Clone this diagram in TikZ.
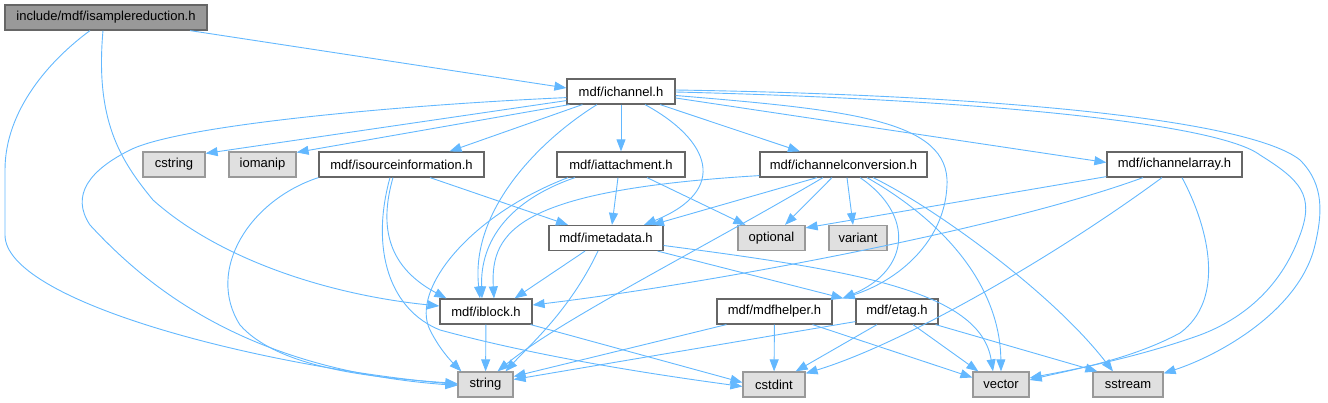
\documentclass[tikz,border=0pt]{standalone}
\usepackage{fontspec}
\setmainfont{Liberation Sans}
\usetikzlibrary{arrows.meta}
\definecolor{edgeblue}{HTML}{63B8FF}
\definecolor{boxgray}{HTML}{666666}
\definecolor{sysfill}{HTML}{E0E0E0}
\definecolor{sysline}{HTML}{999999}
\definecolor{rootfill}{HTML}{999999}

\begin{document}
\begin{tikzpicture}[x=1pt, y=-1pt, every node/.style={font=\fontsize{13}{15}\selectfont}]
\tikzset{hdr/.style={draw=boxgray, fill=white, line width=1.2pt, minimum height=25pt, inner sep=0pt}}
\tikzset{sys/.style={hdr, draw=sysline, fill=sysfill}}
\tikzset{root/.style={hdr, fill=rootfill}}
\tikzset{inc/.style={draw=edgeblue, line width=0.9pt, -{Triangle[length=12pt, width=9pt]}}}

\useasboundingbox (0,0) rectangle (1328,403);

% Headers
\node[root, minimum width=202pt] (isr) at (106,17.5) {include/mdf/isamplereduction.h};
\node[hdr, minimum width=108pt] (ichannel) at (621,91.5) {mdf/ichannel.h};
\node[sys, minimum width=62pt] (cstring) at (174,164.5) {cstring};
\node[sys, minimum width=67pt] (iomanip) at (262.5,164.5) {iomanip};
\node[hdr, minimum width=165pt] (isi) at (401.5,164.5) {mdf/isourceinformation.h};
\node[hdr, minimum width=128pt] (iattachment) at (621,164.5) {mdf/iattachment.h};
\node[hdr, minimum width=167pt] (icc) at (843.5,164.5) {mdf/ichannelconversion.h};
\node[hdr, minimum width=135pt] (ica) at (1174.5,164.5) {mdf/ichannelarray.h};
\node[hdr, minimum width=114pt] (imetadata) at (606,238) {mdf/imetadata.h};
\node[sys, minimum width=67pt] (optional) at (771.5,238) {optional};
\node[sys, minimum width=58pt] (variant) at (858,238) {variant};
\node[hdr, minimum width=92pt] (iblock) at (486,311.5) {mdf/iblock.h};
\node[hdr, minimum width=115pt] (mdfhelper) at (774.5,311.5) {mdf/mdfhelper.h};
\node[hdr, minimum width=82pt] (etag) at (897,311.5) {mdf/etag.h};
\node[sys, minimum width=55pt] (string) at (485.5,384.5) {string};
\node[sys, minimum width=62pt] (cstdint) at (774,384.5) {cstdint};
\node[sys, minimum width=56pt] (vector) at (1001,384.5) {vector};
\node[sys, minimum width=70pt] (sstream) at (1128,384.5) {sstream};

% Root
\draw[inc] ([xshift=84pt]isr.south) -- ([yshift=3.5pt]ichannel.west);
\draw[inc] ([xshift=-16pt]isr.south) .. controls (50,60) and (5,110) .. (5,170) -- (5,235) .. controls (5,300) and (250,365) .. (string.west);
\draw[inc] ([xshift=-3pt]isr.south) .. controls (95,120) and (120,160) .. (153,200) .. controls (220,260) and (330,295) .. ([yshift=5.5pt]iblock.west);

% ichannel
\draw[inc] ([yshift=4pt]ichannel.south west) -- ([yshift=-2pt]cstring.north east);
\draw[inc] ([xshift=3pt]ichannel.south west) -- ([yshift=-1pt]iomanip.north east);
\draw[inc] ([xshift=16pt]ichannel.south west) -- ([xshift=48pt]isi.north);
\draw[inc] ([yshift=7pt]ichannel.south west) .. controls (400,105) and (180,125) .. (130,150) .. controls (90,170) and (70,195) .. (90,225) .. controls (150,290) and (250,370) .. ([yshift=-1pt]string.west);
\draw[inc] ([xshift=-24pt]ichannel.south) .. controls (540,140) and (470,210) .. ([xshift=-6pt]iblock.north);
\draw[inc] (ichannel) -- (iattachment);
\draw[inc] ([xshift=24pt]ichannel.south) .. controls (710,140) and (730,190) .. ([xshift=38pt]imetadata.north);
\draw[inc] ([xshift=39pt]ichannel.south) -- ([xshift=-43.5pt]icc.north);
\draw[inc] ([yshift=-6.5pt]ichannel.east) -- ([yshift=2pt]ica.west);
\draw[inc] ([yshift=-4pt]ichannel.east) .. controls (850,110) and (950,120) .. (947,185) .. controls (945,240) and (900,280) .. ([xshift=10pt]mdfhelper.north east);
\draw[inc] ([yshift=-0.5pt]ichannel.east) .. controls (1000,100) and (1220,125) .. (1260,155) .. controls (1300,180) and (1315,195) .. (1300,235) .. controls (1280,290) and (1240,320) .. (1200,335) .. controls (1130,360) and (1060,372) .. ([yshift=6.5pt]vector.east);
\draw[inc] ([yshift=1.5pt]ichannel.east) .. controls (1000,95) and (1250,120) .. (1300,160) .. controls (1325,185) and (1322,215) .. (1315,245) .. controls (1300,310) and (1220,355) .. ([yshift=-2pt]sstream.north east);

% isourceinformation
\draw[inc] ([xshift=28.5pt]isi.south) -- ([xshift=-38pt]imetadata.north);
\draw[inc] ([xshift=-8.5pt]isi.south) .. controls (378,230) and (390,268) .. ([xshift=7pt]iblock.north west);
\draw[inc] ([xshift=-11.5pt]isi.south) .. controls (370,250) and (390,310) .. (440,330) .. controls (550,360) and (680,378) .. ([yshift=-2pt]cstdint.west);
\draw[inc] (isi.south west) .. controls (250,200) and (205,270) .. (240,325) .. controls (280,370) and (380,378) .. ([yshift=1pt]string.west);

% iattachment
\draw[inc] ([xshift=-3pt]iattachment.south) -- ([xshift=6pt]imetadata.north);
\draw[inc] ([xshift=26pt]iattachment.south) -- ([xshift=8pt]optional.north west);
\draw[inc] ([xshift=-46pt]iattachment.south) .. controls (510,200) and (480,240) .. ([xshift=-4pt]iblock.north);
\draw[inc] ([xshift=-53pt]iattachment.south) .. controls (470,215) and (410,290) .. (430,330) .. controls (440,350) and (452,362) .. ([xshift=4pt]string.north west);

% ichannelconversion
\draw[inc] ([yshift=2pt]icc.south west) .. controls (520,190) and (490,230) .. ([xshift=8pt]iblock.north);
\draw[inc] ([xshift=-26.5pt]icc.south) -- ([xshift=46pt]imetadata.north);
\draw[inc] ([xshift=-20.5pt]icc.south) .. controls (700,250) and (560,320) .. ([xshift=12pt]string.north);
\draw[inc] ([xshift=-11.5pt]icc.south) -- ([xshift=13.5pt]optional.north);
\draw[inc] ([xshift=3.5pt]icc.south) -- ([xshift=-5pt]variant.north);
\draw[inc] ([xshift=16.5pt]icc.south) .. controls (915,215) and (910,270) .. ([xshift=10pt]mdfhelper.north east);
\draw[inc] ([xshift=23.5pt]icc.south) .. controls (950,225) and (1000,290) .. (vector.north);
\draw[inc] ([xshift=29.5pt]icc.south) .. controls (930,205) and (1050,290) .. ([xshift=-15pt]sstream.north);

% ichannelarray
\draw[inc] ([yshift=1pt]ica.south west) -- ([yshift=-3pt]optional.north east);
\draw[inc] ([xshift=-31.5pt]ica.south) .. controls (1000,230) and (700,285) .. ([yshift=6.5pt]iblock.east);
\draw[inc] ([xshift=-12.5pt]ica.south) .. controls (1050,260) and (900,345) .. ([yshift=-2pt]cstdint.north east);
\draw[inc] ([xshift=7.5pt]ica.south) .. controls (1210,230) and (1225,300) .. (1180,333) .. controls (1130,360) and (1070,370) .. ([yshift=4.5pt]vector.east);

% imetadata
\draw[inc] ([xshift=-21pt]imetadata.south) -- ([xshift=-18pt]iblock.north east);
\draw[inc] ([xshift=-8pt]imetadata.south) .. controls (570,310) and (530,345) .. ([xshift=20pt]string.north);
\draw[inc] ([xshift=-6pt]imetadata.south east) -- ([xshift=-12pt]etag.north west);
\draw[inc] ([yshift=-7.5pt]imetadata.east) .. controls (850,270) and (980,290) .. ([xshift=-8pt]vector.north);

% iblock
\draw[inc] (iblock) -- (string);
\draw[inc] ([xshift=-2pt]iblock.south east) -- ([yshift=2pt]cstdint.west);

% mdfhelper
\draw[inc] ([xshift=10pt]mdfhelper.south west) -- ([yshift=8pt]string.east);
\draw[inc] (mdfhelper) -- (cstdint);
\draw[inc] ([xshift=-20pt]mdfhelper.south east) -- ([yshift=7pt]vector.west);

% etag
\draw[inc] ([yshift=3pt]etag.south west) -- ([yshift=5pt]string.east);
\draw[inc] ([xshift=-20pt]etag.south) -- ([xshift=-10pt]cstdint.north east);
\draw[inc] ([xshift=16pt]etag.south) -- ([xshift=6pt]vector.north west);
\draw[inc] ([xshift=-3pt]etag.south east) -- ([xshift=5pt]sstream.north west);
\end{tikzpicture}
\end{document}
